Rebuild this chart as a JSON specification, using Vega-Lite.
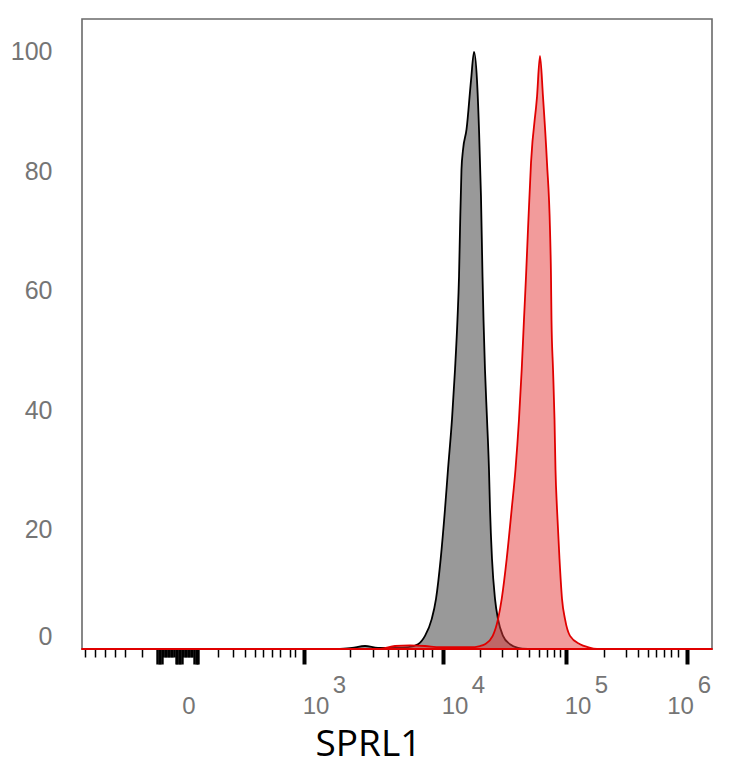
{
  "$schema": "https://vega.github.io/schema/vega-lite/v6.json",
  "width": 630,
  "height": 630,
  "autosize": "none",
  "padding": {"left": 82, "top": 19, "right": 22, "bottom": 119},
  "background": "white",
  "datasets": {
    "control": [
      {"x": 419.4, "count": 0},
      {"x": 438.9, "count": 0.2},
      {"x": 460.0, "count": 0.5},
      {"x": 481.1, "count": 0.2},
      {"x": 505.5, "count": 0.2},
      {"x": 529.9, "count": 0.3},
      {"x": 546.1, "count": 0.8},
      {"x": 557.5, "count": 2.2},
      {"x": 568.4, "count": 5.0},
      {"x": 575.4, "count": 8.4},
      {"x": 583.0, "count": 15.1},
      {"x": 590.0, "count": 23.4},
      {"x": 594.9, "count": 30.1},
      {"x": 601.4, "count": 38.5},
      {"x": 606.3, "count": 46.8},
      {"x": 610.3, "count": 55.2},
      {"x": 612.8, "count": 62.4},
      {"x": 614.4, "count": 70.2},
      {"x": 616.8, "count": 80.3},
      {"x": 619.3, "count": 83.6},
      {"x": 625.0, "count": 87.0},
      {"x": 632.4, "count": 95.3},
      {"x": 637.2, "count": 100},
      {"x": 642.0, "count": 95.3},
      {"x": 645.3, "count": 87.0},
      {"x": 648.5, "count": 75.8},
      {"x": 651.0, "count": 62.4},
      {"x": 652.6, "count": 55.2},
      {"x": 655.0, "count": 46.8},
      {"x": 658.3, "count": 38.5},
      {"x": 661.5, "count": 30.1},
      {"x": 663.2, "count": 23.4},
      {"x": 666.4, "count": 15.1},
      {"x": 671.3, "count": 8.4},
      {"x": 676.2, "count": 5.0},
      {"x": 684.3, "count": 2.2},
      {"x": 695.7, "count": 0.8},
      {"x": 708.7, "count": 0.2},
      {"x": 724.9, "count": 0}
    ],
    "stained": [
      {"x": 0, "count": 0},
      {"x": 484.4, "count": 0},
      {"x": 508.8, "count": 0.5},
      {"x": 533.1, "count": 0.6},
      {"x": 557.5, "count": 0.5},
      {"x": 581.9, "count": 0.3},
      {"x": 630.6, "count": 0.3},
      {"x": 646.9, "count": 0.5},
      {"x": 655.0, "count": 0.8},
      {"x": 667.6, "count": 2.2},
      {"x": 676.2, "count": 5.0},
      {"x": 682.2, "count": 8.4},
      {"x": 690.3, "count": 15.1},
      {"x": 698.4, "count": 23.4},
      {"x": 704.6, "count": 30.1},
      {"x": 710.3, "count": 38.5},
      {"x": 714.7, "count": 46.8},
      {"x": 718.4, "count": 55.2},
      {"x": 721.7, "count": 62.4},
      {"x": 724.9, "count": 70.2},
      {"x": 729.8, "count": 81.4},
      {"x": 739.6, "count": 92.5},
      {"x": 744.4, "count": 99.3},
      {"x": 749.3, "count": 92.5},
      {"x": 755.8, "count": 81.4},
      {"x": 760.7, "count": 70.2},
      {"x": 762.3, "count": 62.4},
      {"x": 763.1, "count": 55.2},
      {"x": 765.6, "count": 46.8},
      {"x": 768.0, "count": 38.5},
      {"x": 769.6, "count": 30.1},
      {"x": 772.1, "count": 23.4},
      {"x": 776.1, "count": 15.1},
      {"x": 780.2, "count": 8.4},
      {"x": 785.1, "count": 5.0},
      {"x": 793.2, "count": 2.2},
      {"x": 809.5, "count": 0.8},
      {"x": 822.5, "count": 0.3},
      {"x": 837.1, "count": 0},
      {"x": 1024, "count": 0}
    ]
  },
  "encoding": {
    "y": {
      "field": "count",
      "type": "quantitative",
      "scale": {"domain": [0, 105.5], "nice": false, "zero": true},
      "axis": {
        "title": null,
        "values": [0, 20, 40, 60, 80, 100],
        "ticks": false,
        "domain": false,
        "grid": false,
        "labelPadding": 30,
        "labelFontSize": 25,
        "labelBaseline": {"condition": {"test": "datum.value == 0", "value": "bottom"}, "value": "middle"}
      }
    }
  },
  "layer": [
    {
      "data": {"name": "control"},
      "mark": {"type": "area", "interpolate": "monotone", "fill": "#999999", "stroke": "#000000", "strokeWidth": 1.8, "strokeJoin": "round"},
      "encoding": {
        "x": {
          "field": "x",
          "type": "quantitative",
          "scale": {"domain": [0, 1024], "nice": false, "zero": false},
          "axis": {
            "title": "SPRL1",
            "titleFont": "Open Sans",
            "titleFontSize": 37,
            "titleFontWeight": "normal",
            "titleColor": "#000000",
            "titleX": 286,
            "titleY": 106,
            "titleAlign": "center",
            "titleBaseline": "alphabetic",
            "domain": false,
            "grid": false,
            "values": [4.9, 21.1, 37.4, 53.6, 69.9, 97.5,
              122, 124.5, 127, 129.5, 132, 134.5, 137, 139.5, 142, 144.5, 147, 149.5, 152, 154.4, 157, 159.5, 162, 164.5, 167, 169.5, 172, 174.5, 177, 179.5, 182, 184.5, 187, 188.5,
              221.1, 245.4, 265.0, 281.2, 294.2, 308.8, 321.8, 338.1, 346.2,
              360.8,
              435.6, 473.0, 497.4, 513.6, 528.3, 541.3, 554.3, 569.0,
              586.8,
              646.9, 682.7, 707.0, 726.5, 742.8, 755.8, 767.2, 776.9,
              786.7,
              848.5, 884.2, 903.7, 920.0, 933.0, 946.0, 957.4, 968.7,
              983.4],
            "tickColor": "#000000",
            "tickSize": {"condition": {"test": "indexof([360.8, 586.8, 786.7, 983.4], datum.value) >= 0 || (datum.value >= 121 && datum.value <= 131) || (datum.value >= 151 && datum.value <= 163) || (datum.value >= 180 && datum.value <= 190)", "value": 15}, "value": 8},
            "tickWidth": {"condition": [
              {"test": "indexof([360.8, 586.8, 786.7, 983.4], datum.value) >= 0", "value": 4},
              {"test": "datum.value >= 121 && datum.value <= 190", "value": 2.4}
            ], "value": 1.5},
            "labelExpr": "datum.value == 154.4 ? '0' : (indexof([360.8, 586.8, 786.7, 983.4], datum.value) >= 0 ? '10' : '')",
            "labelOffset": {"condition": {"test": "datum.value == 983.4", "value": -7}, "value": 11.5},
            "labelBaseline": "alphabetic",
            "labelPadding": 49,
            "labelFontSize": 24,
            "labelOverlap": false,
            "labelFlush": false,
            "labelBound": false,
            "orient": "bottom"
          }
        }
      }
    },
    {
      "data": {"name": "stained"},
      "mark": {"type": "area", "interpolate": "monotone", "fill": "#e53838", "fillOpacity": 0.5, "stroke": "#e00000", "strokeWidth": 1.8, "strokeJoin": "round"},
      "encoding": {
        "x": {
          "field": "x",
          "type": "quantitative",
          "scale": {"domain": [0, 1024], "nice": false, "zero": false},
          "axis": {
            "title": null,
            "domain": false,
            "grid": false,
            "ticks": false,
            "tickSize": 0,
            "values": [360.8, 586.8, 786.7, 983.4],
            "labelExpr": "datum.value == 360.8 ? '3' : (datum.value == 586.8 ? '4' : (datum.value == 786.7 ? '5' : '6'))",
            "labelOffset": {"condition": {"test": "datum.value == 983.4", "value": 17}, "value": 35},
            "labelBaseline": "alphabetic",
            "labelPadding": 43,
            "labelFontSize": 24,
            "labelOverlap": false,
            "labelFlush": false,
            "labelBound": false,
            "orient": "bottom"
          }
        }
      }
    }
  ],
  "resolve": {"axis": {"x": "independent"}},
  "config": {
    "view": {"stroke": "#6a6a6a", "strokeWidth": 1.6},
    "axis": {
      "labelFont": "Liberation Sans",
      "labelColor": "#757575",
      "grid": false
    }
  }
}
